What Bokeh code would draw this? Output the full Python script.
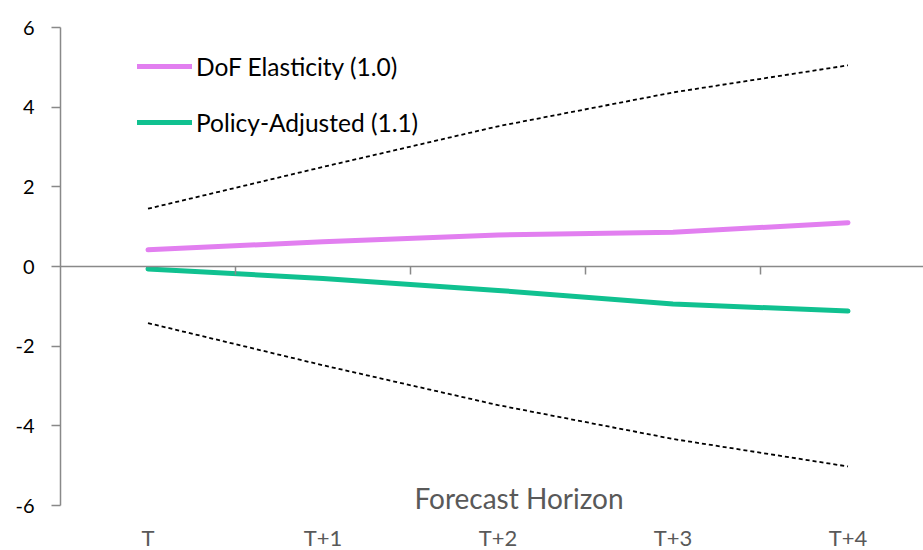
from bokeh.plotting import figure
from bokeh.models import (Range1d, LinearAxis, FixedTicker, Legend, LegendItem, Label)
from bokeh.embed import file_html
from bokeh.resources import INLINE

# Forecast horizons and series values
horizons = ["T", "T+1", "T+2", "T+3", "T+4"]
dof_elasticity = [0.42, 0.62, 0.79, 0.86, 1.10]
policy_adjusted = [-0.06, -0.30, -0.60, -0.94, -1.12]
band_upper = [1.45, 2.50, 3.52, 4.37, 5.05]
band_lower = [-1.42, -2.48, -3.48, -4.33, -5.02]
y_ticks = [-6, -4, -2, 0, 2, 4, 6]

FONT = "Lato"
xs = list(range(len(horizons)))

# plot frame runs to the bottom edge; the value axis itself stops at -6
px_per_unit = 478 / (y_ticks[-1] - y_ticks[0])
y_bottom = y_ticks[0] - 45 / px_per_unit

p = figure(width=923, height=550, output_backend="svg", toolbar_location=None,
           x_range=Range1d(-0.5, len(horizons) - 0.5 - 12 / 175),
           y_range=Range1d(y_bottom, y_ticks[-1]),
           x_axis_location=None, y_axis_location=None,
           min_border_left=60, min_border_right=0, min_border_top=27,
           min_border_bottom=0)
p.outline_line_color = None
p.xgrid.visible = False
p.ygrid.visible = False
p.background_fill_color = "white"
p.border_fill_color = "white"

# value axis on the left (plain hyphen for negative labels)
yaxis = LinearAxis(ticker=FixedTicker(ticks=y_ticks), bounds=(y_ticks[0], y_ticks[-1]),
                   major_label_overrides={t: str(t) for t in y_ticks})
yaxis.axis_line_color = "#898989"
yaxis.axis_line_width = 1.5
yaxis.major_tick_line_color = "#898989"
yaxis.major_tick_line_width = 1.5
yaxis.major_tick_in = 0
yaxis.major_tick_out = 9
yaxis.minor_tick_line_color = None
yaxis.major_label_standoff = 17
yaxis.major_label_text_font = FONT
yaxis.major_label_text_font_size = "20px"
yaxis.major_label_text_color = "#000000"
p.add_layout(yaxis, "left")

# category labels under the bottom of the value axis
xlab = LinearAxis(ticker=FixedTicker(ticks=xs), fixed_location=y_ticks[0],
                  major_label_overrides={i: h for i, h in enumerate(horizons)})
xlab.axis_line_color = None
xlab.major_tick_line_color = None
xlab.minor_tick_line_color = None
xlab.major_tick_out = 0
xlab.major_tick_in = 0
xlab.major_label_standoff = 18
xlab.major_label_text_font = FONT
xlab.major_label_text_font_size = "22px"
xlab.major_label_text_color = "#595959"
p.add_layout(xlab, "below")

# zero line with tick marks between categories
xzero = LinearAxis(ticker=FixedTicker(ticks=[i + 0.5 for i in xs[:-1]]),
                   fixed_location=0)
xzero.axis_line_color = "#898989"
xzero.axis_line_width = 1.5
xzero.major_tick_line_color = "#898989"
xzero.major_tick_line_width = 1.5
xzero.major_tick_in = 0
xzero.major_tick_out = 8
xzero.minor_tick_line_color = None
xzero.major_label_text_font_size = "0px"
xzero.major_label_text_alpha = 0
p.add_layout(xzero, "below")

# uncertainty band bounds
p.line(xs, band_upper, line_color="black", line_width=1.8, line_dash="4 3")
p.line(xs, band_lower, line_color="black", line_width=1.8, line_dash="4 3")

r_dof = p.line(xs, dof_elasticity, line_color="#e27ff0", line_width=5,
               line_cap="round", line_join="round")
r_pol = p.line(xs, policy_adjusted, line_color="#10c190", line_width=5,
               line_cap="round", line_join="round")

legend = Legend(items=[LegendItem(label="DoF Elasticity (1.0)", renderers=[r_dof]),
                       LegendItem(label="Policy-Adjusted (1.1)", renderers=[r_pol])],
                location=(77, 413), orientation="vertical")
legend.border_line_color = None
legend.background_fill_alpha = 0
legend.margin = 0
legend.padding = 0
legend.spacing = 26
legend.glyph_width = 55
legend.glyph_height = 30
legend.label_height = 30
legend.label_standoff = 4
legend.label_text_font = FONT
legend.label_text_font_size = "24.5px"
legend.label_text_color = "#000000"
p.add_layout(legend, "center")

p.add_layout(Label(x=2.12, y=-5.8, text="Forecast Horizon", text_align="center",
                   text_baseline="middle", text_font=FONT, text_font_size="28px",
                   text_color="#595959"))

open("out.html", "w").write(file_html(p, INLINE))
